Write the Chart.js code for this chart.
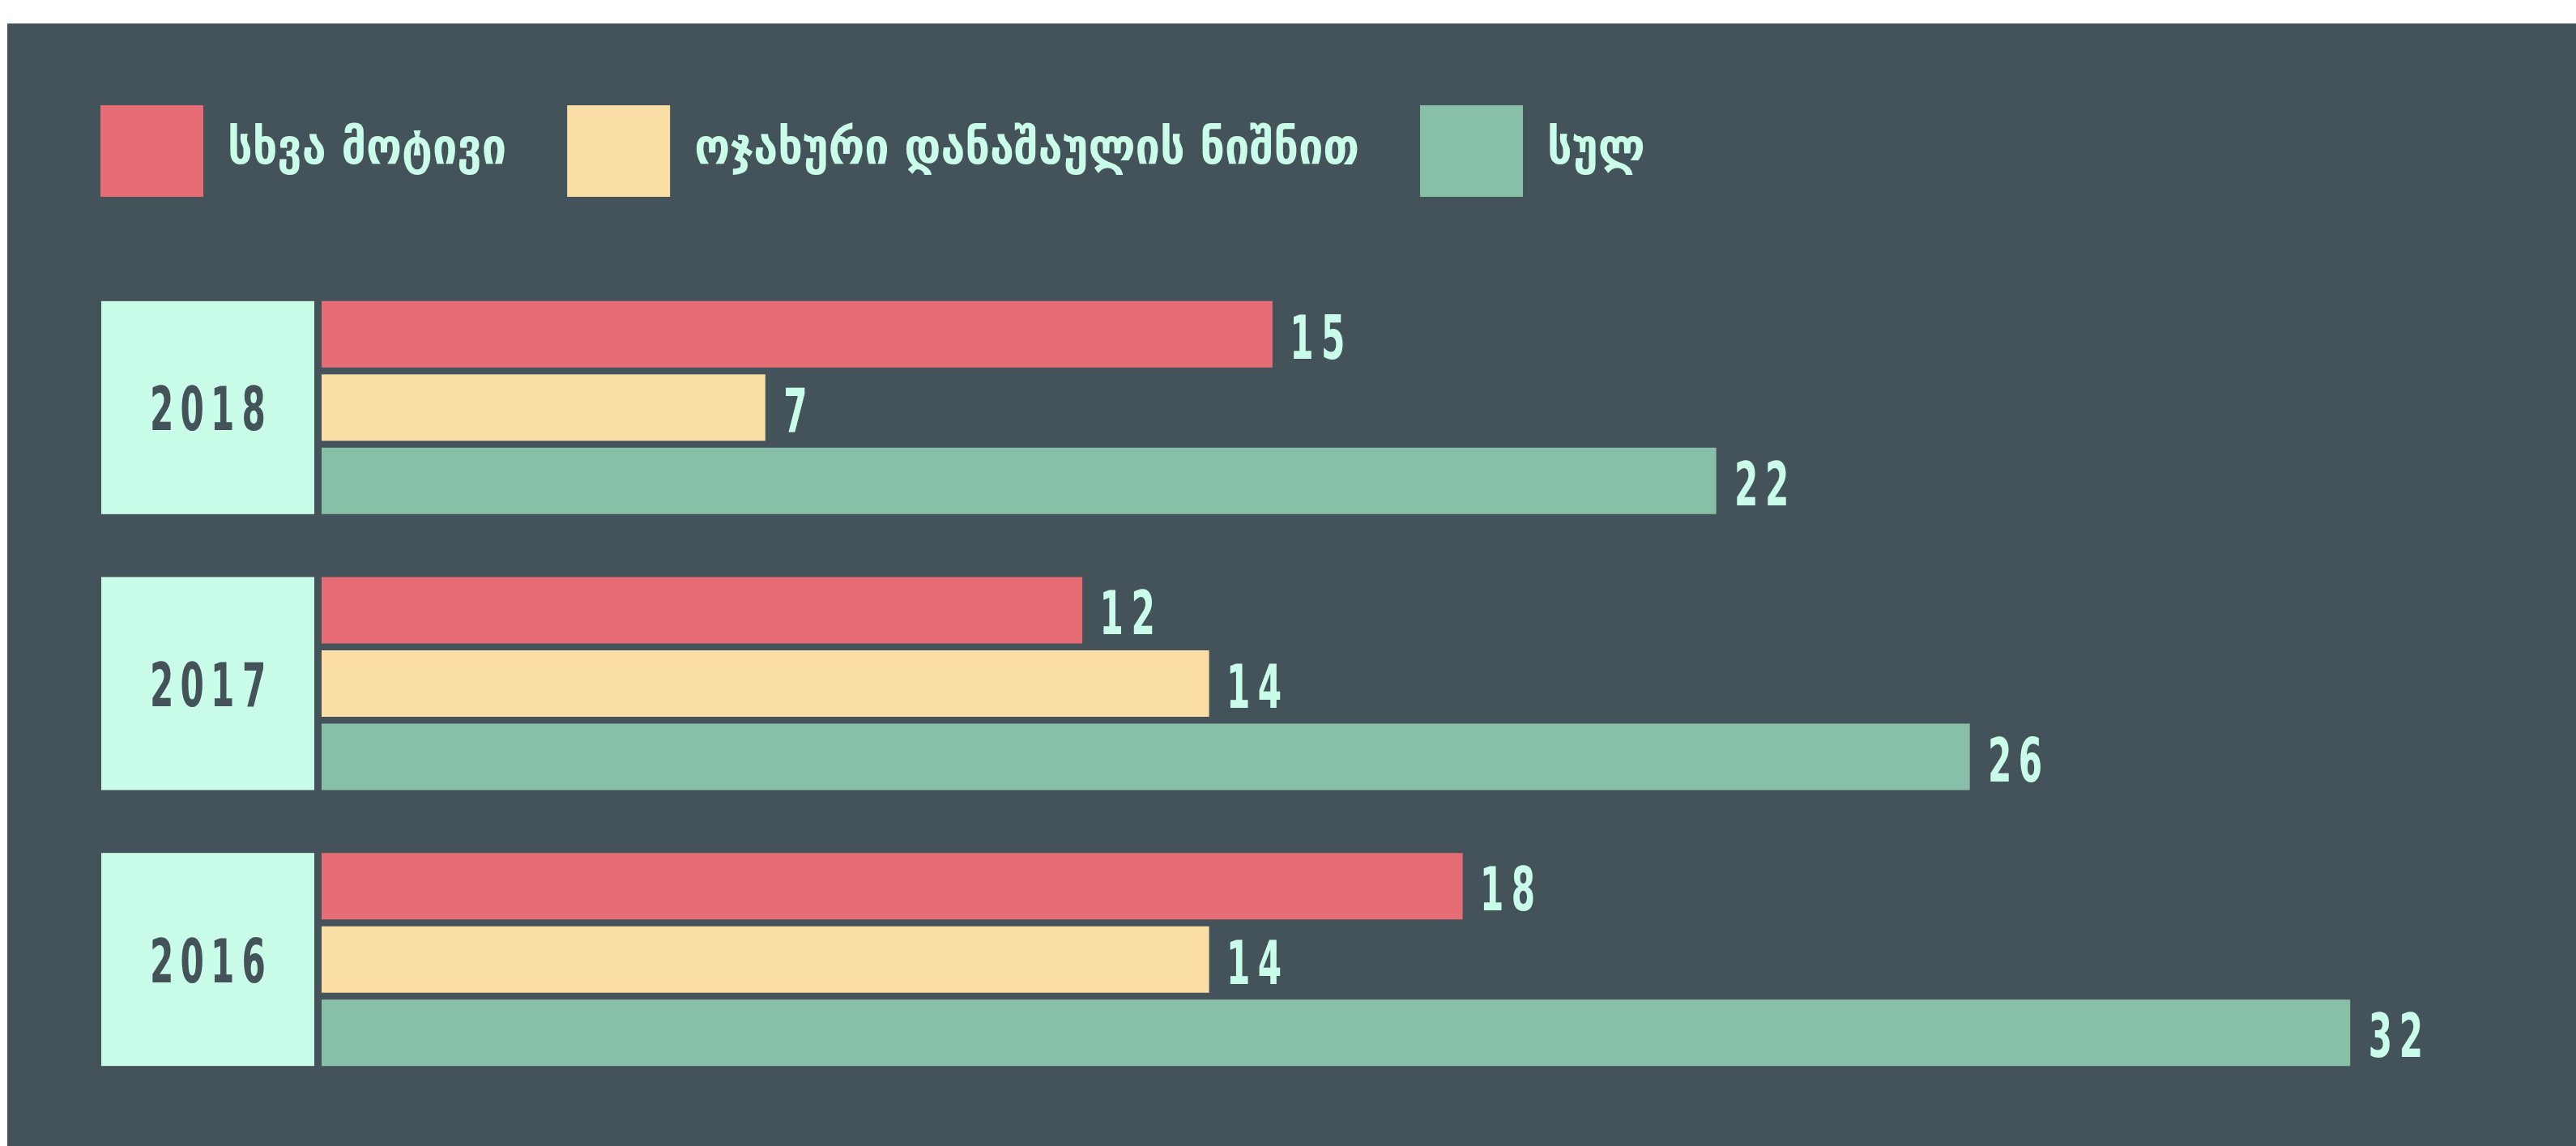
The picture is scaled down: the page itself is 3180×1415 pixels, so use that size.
<!DOCTYPE html>
<html lang="ka">
<head>
    <meta charset="UTF-8">
    <title>მოტივები წლების მიხედვით</title>
    <script src="https://cdn.jsdelivr.net/npm/chart.js"></script>
    <style>
        body {
            margin: 0;
            padding: 0;
            background-color: #ffffff;
        }
        .panel {
            position: absolute;
            left: 9px;
            top: 29px;
            width: 3171px;
            height: 1386px;
            background-color: #44535A;
        }
    </style>
</head>
<body>
    <div class="panel">
        <canvas id="motiveChart"></canvas>
    </div>

    <script>
        // წლები (ზემოდან ქვემოთ)
        const years = ['2018', '2017', '2016'];
        const seriesNames = ['სხვა მოტივი', 'ოჯახური დანაშაულის ნიშნით', 'სულ'];
        const otherMotive = [15, 12, 18];
        const domesticCrime = [7, 14, 14];
        const totals = [22, 26, 32];

        // ვიწრო ციფრები: ფონტი შეკუმშულია ჰორიზონტალურად
        // ink = ერთი ციფრის სიგანე, step = ციფრიდან ციფრამდე
        function drawNarrow(ctx, text, x, y, align) {
            const ink = 26, step = 38;
            ctx.save();
            ctx.font = "bold 74px 'DejaVu Sans Condensed', 'DejaVu Sans', sans-serif";
            ctx.textAlign = 'left';
            ctx.textBaseline = 'alphabetic';
            const m = ctx.measureText('0');
            const glyph = m.actualBoundingBoxLeft + m.actualBoundingBoxRight;
            const sx = ink / glyph;
            const total = (text.length - 1) * step + ink;
            let left = align === 'center' ? x - total / 2 : x;
            ctx.translate(left, y);
            ctx.scale(sx, 1);
            for (let i = 0; i < text.length; i++) {
                const c = ctx.measureText(text[i]);
                const w = c.actualBoundingBoxLeft + c.actualBoundingBoxRight;
                // ციფრი ცენტრში თავის უჯრაში
                const cellX = (i * step + ink / 2) / sx;
                ctx.fillText(text[i], cellX - w / 2 + c.actualBoundingBoxLeft, 0);
            }
            ctx.restore();
        }

        // წლის ღია ფონის ყუთები y ღერძის ადგილას
        const yearBoxes = {
            id: 'yearBoxes',
            afterDatasetsDraw(chart) {
                const ctx = chart.ctx;
                const first = chart.getDatasetMeta(0).data;
                const last = chart.getDatasetMeta(chart.data.datasets.length - 1).data;
                const right = chart.chartArea.left - 9;
                const left = right - 263;
                ctx.save();
                chart.data.labels.forEach((label, i) => {
                    const top = first[i].y - first[i].height / 2;
                    const bottom = last[i].y + last[i].height / 2;
                    ctx.fillStyle = '#CAFDE9';
                    ctx.fillRect(left, top, right - left, bottom - top);
                    ctx.fillStyle = '#44535A';
                    drawNarrow(ctx, label, (left + right) / 2, (top + bottom) / 2 + 28, 'center');
                });
                ctx.restore();
            }
        };

        // მნიშვნელობები ზოლების ბოლოს
        const valueLabels = {
            id: 'valueLabels',
            afterDatasetsDraw(chart) {
                const ctx = chart.ctx;
                ctx.save();
                ctx.fillStyle = '#CAFDE9';
                chart.data.datasets.forEach((ds, d) => {
                    chart.getDatasetMeta(d).data.forEach((bar, i) => {
                        drawNarrow(ctx, String(ds.data[i]), bar.x + 24, bar.y + 30, 'left');
                    });
                });
                ctx.restore();
            }
        };

        const ctx = document.getElementById('motiveChart').getContext('2d');
        new Chart(ctx, {
            type: 'bar',
            data: {
                labels: years,
                datasets: [{
                    label: seriesNames[0],
                    data: otherMotive,
                    backgroundColor: '#E66C75'
                }, {
                    label: seriesNames[1],
                    data: domesticCrime,
                    backgroundColor: '#FADEA5'
                }, {
                    label: seriesNames[2],
                    data: totals,
                    backgroundColor: '#88BFA7'
                }]
            },
            options: {
                indexAxis: 'y',
                responsive: true,
                maintainAspectRatio: false,
                animation: false,
                datasets: {
                    bar: {
                        borderWidth: 0,
                        barPercentage: 0.906,
                        categoryPercentage: 0.797
                    }
                },
                layout: {
                    padding: { left: 40, top: 26, right: 44, bottom: 60 }
                },
                plugins: {
                    legend: {
                        position: 'top',
                        align: 'start',
                        labels: {
                            boxWidth: 127,
                            boxHeight: 113,
                            padding: 75,
                            color: '#CAFDE9',
                            font: {
                                family: "'DejaVu Sans Condensed', 'DejaVu Sans', sans-serif",
                                size: 60,
                                weight: 'bold'
                            }
                        }
                    },
                    tooltip: { enabled: false }
                },
                scales: {
                    x: {
                        position: 'top',
                        min: 0,
                        max: 35,
                        grid: { display: false },
                        border: { display: false },
                        ticks: { display: false },
                        afterFit(scale) { scale.height = 80; }
                    },
                    y: {
                        grid: { display: false },
                        border: { display: false },
                        ticks: { display: false },
                        afterFit(scale) { scale.width = 348; }
                    }
                }
            },
            plugins: [yearBoxes, valueLabels]
        });
    </script>
</body>
</html>
